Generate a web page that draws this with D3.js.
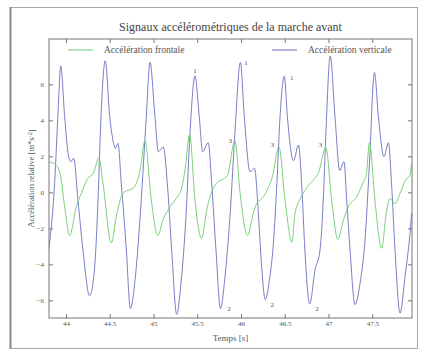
<!DOCTYPE html>
<html>
<head>
<meta charset="utf-8">
<script src="https://cdn.jsdelivr.net/npm/d3@7"></script>
<style>
  body { margin: 0; background: #fff; }
  text { font-family: "Liberation Serif", "Times New Roman", serif; }
</style>
</head>
<body>
<div id="chart"></div>
<script>
// time (s) of the sampled points, vertical acceleration
var vertT = [43.80, 43.87, 43.91, 43.94, 43.985, 44.03, 44.054, 44.088, 44.137, 44.194, 44.27, 44.328, 44.366, 44.40, 44.449,
  44.50, 44.545, 44.564, 44.594, 44.632, 44.69, 44.735, 44.804, 44.86, 44.918, 44.96, 45.017, 45.055, 45.112, 45.158,
  45.208, 45.265, 45.314, 45.371, 45.417, 45.474, 45.523, 45.562, 45.626, 45.665, 45.714, 45.766, 45.817, 45.874, 45.93,
  45.993, 46.038, 46.103, 46.155, 46.195, 46.236, 46.277, 46.33, 46.37, 46.41, 46.446, 46.495, 46.53, 46.60, 46.657,
  46.693, 46.73, 46.785, 46.846, 46.903, 46.94, 46.97, 47.02, 47.074, 47.128, 47.177, 47.208, 47.246, 47.303, 47.36,
  47.417, 47.466, 47.525, 47.57, 47.634, 47.685, 47.72, 47.76, 47.817, 47.874, 47.931, 47.95];
var vertV = [-3.3, 0.5, 4.5, 7.02, 4.2, 1.98, 1.7, 1.89, -0.43, -3.2, -5.74, -4.13, -0.43, 4.2, 7.31,
  4.2, 2.72, 2.44, 2.72, 0.5, -3.2, -6.45, -4.13, -0.43, 4.2, 7.22, 4.2, 2.26, 2.53, 0.5,
  -3.2, -6.78, -5.06, -1.35, 3.28, 6.47, 4.2, 2.26, 2.76, 0.5, -3.2, -6.46, -4.69, -1.35, 3.28,
  7.22, 4.2, 1.15, 1.33, -0.9, -4.13, -5.95, -4.69, -2.84, 0.5, 4.2, 6.46, 4.2, 1.76, 2.63,
  0.5, -3.2, -6.2, -4.32, -3.2, -0.43, 3.28, 7.57, 4.2, 1.22, 1.7, -0.43, -3.2, -6.24, -5.06,
  -2.65, 1.42, 6.66, 4.2, 1.98, 2.76, 0.5, -3.2, -6.71, -4.69, -2.28, -1.17];

// frontal acceleration
var frontT = [43.80, 43.84, 43.89, 43.94, 43.985, 44.042, 44.118, 44.175, 44.25, 44.31, 44.33, 44.375, 44.423, 44.518,
  44.575, 44.632, 44.67, 44.766, 44.804, 44.85, 44.902, 44.975, 45.05, 45.11, 45.19, 45.265, 45.32, 45.36, 45.413,
  45.474, 45.55, 45.608, 45.646, 45.72, 45.80, 45.845, 45.93, 45.99, 46.075, 46.14, 46.18, 46.217, 46.274, 46.36,
  46.434, 46.503, 46.582, 46.617, 46.667, 46.71, 46.789, 46.846, 46.884, 46.969, 47.036, 47.106, 47.17, 47.227,
  47.322, 47.40, 47.432, 47.468, 47.53, 47.606, 47.665, 47.703, 47.76, 47.817, 47.894, 47.923, 47.95];
var frontV = [1.7, 1.65, 1.5, 0.87, -0.8, -2.4, -0.8, -0.06, 0.78, 1.06, 1.3, 1.92, 0.5, -2.8,
  -1.35, -0.24, 0.03, 0.22, 0.5, 1.3, 2.87, -0.43, -2.4, -1.5, -0.8, -0.3, 0.2, 1.24, 3.22,
  -0.43, -2.56, -0.98, -0.24, 0.5, 0.75, 0.95, 2.87, -0.06, -2.4, -1.17, -0.61, -0.45, -0.1, 0.9,
  2.53, -0.43, -2.77, -1.17, -0.45, -0.06, 0.5, 0.78, 1.06, 2.49, -0.43, -2.62, -1.54, -0.8,
  -0.24, 0.6, 1.0, 2.76, -0.43, -3.11, -0.98, -0.35, -0.63, -0.06, 0.78, 0.87, 1.6];

var xTicks = [44, 44.5, 45, 45.5, 46, 46.5, 47, 47.5];
var yTicks = [-6, -4, -2, 0, 2, 4, 6];

// annotation labels (text, time, value)
var annoText = ["1", "1", "1", "2", "2", "2", "3", "3", "3"];
var annoT = [45.474, 46.057, 46.58, 45.863, 46.358, 46.869, 45.878, 46.36, 46.909];
var annoV = [6.76, 7.2, 6.39, -6.47, -6.21, -6.44, 2.88, 2.67, 2.67];

var seriesNames = ["Accélération frontale", "Accélération verticale"];
var seriesColors = ["#6ccb6c", "#6a6ec2"];

var W = 426, H = 353;
var margin = {top: 39, right: 14, bottom: 35, left: 49},
    width = W - margin.left - margin.right,
    height = H - margin.top - margin.bottom;

var svg = d3.select("#chart").append("svg")
    .attr("width", W)
    .attr("height", H);

// figure frame
svg.append("rect")
    .attr("x", 10.5).attr("y", 7.5)
    .attr("width", 407).attr("height", 341)
    .style("fill", "#fff")
    .style("stroke", "#aaa")
    .style("stroke-width", 1);
svg.append("line")
    .attr("x1", 10.5).attr("x2", 10.5).attr("y1", 7).attr("y2", 349)
    .style("stroke", "#888").style("stroke-width", 2);

var g = svg.append("g")
    .attr("transform", "translate(" + margin.left + "," + margin.top + ")");

var x = d3.scaleLinear().domain([43.806, 47.954]).range([0, width]);
var y = d3.scaleLinear().domain([-6.98, 8.52]).range([height, 0]);

var front = frontT.map(function(t, i) { return [t, frontV[i]]; });
var vert = vertT.map(function(t, i) { return [t, vertV[i]]; });

var line = d3.line()
    .x(function(d) { return x(d[0]); })
    .y(function(d) { return y(d[1]); })
    .curve(d3.curveMonotoneX);

g.append("defs").append("clipPath").attr("id", "clip")
  .append("rect").attr("width", width).attr("height", height);

g.append("path")
    .datum(vert)
    .attr("clip-path", "url(#clip)")
    .attr("d", line)
    .style("fill", "none")
    .style("stroke", seriesColors[1])
    .style("stroke-width", 0.9);

g.append("path")
    .datum(front)
    .attr("clip-path", "url(#clip)")
    .attr("d", line)
    .style("fill", "none")
    .style("stroke", seriesColors[0])
    .style("stroke-width", 0.9);

// axes, ticks pointing inwards on all four sides
function styleAxis(sel) {
  sel.select(".domain").remove();
  sel.selectAll("line").style("stroke", "#777");
  sel.selectAll("text")
      .style("font-family", "Liberation Serif, serif")
      .style("font-size", "7px")
      .style("fill", "#555");
}

g.append("g")
    .attr("transform", "translate(0," + height + ")")
    .call(d3.axisBottom(x).tickValues(xTicks).tickSizeInner(-4).tickSizeOuter(0).tickPadding(3)
      .tickFormat(d3.format("")))
    .call(styleAxis);

g.append("g")
    .call(d3.axisTop(x).tickValues(xTicks).tickSizeInner(-4).tickSizeOuter(0).tickFormat(""))
    .call(styleAxis);

g.append("g")
    .call(d3.axisLeft(y).tickValues(yTicks).tickSizeInner(-4).tickSizeOuter(0).tickPadding(5)
      .tickFormat(d3.format("")))
    .call(styleAxis);

g.append("g")
    .attr("transform", "translate(" + width + ",0)")
    .call(d3.axisRight(y).tickValues(yTicks).tickSizeInner(-4).tickSizeOuter(0).tickFormat(""))
    .call(styleAxis);

g.append("rect")
    .attr("width", width).attr("height", height)
    .style("fill", "none")
    .style("stroke", "#777")
    .style("stroke-width", 1);

// annotations
g.selectAll(".anno")
    .data(annoText)
  .enter().append("text")
    .attr("class", "anno")
    .attr("x", function(d, i) { return x(annoT[i]); })
    .attr("y", function(d, i) { return y(annoV[i]); })
    .attr("dy", "0.35em")
    .style("text-anchor", "middle")
    .style("font-size", "7px")
    .style("fill", "#555")
    .text(function(d) { return d; });

// legend
var legendX = [19, 223];
var legend = g.selectAll(".legend")
    .data(seriesNames)
  .enter().append("g")
    .attr("class", "legend")
    .attr("transform", function(d, i) { return "translate(" + legendX[i] + ",11)"; });

legend.append("line")
    .attr("x1", 0).attr("x2", 25)
    .style("stroke", function(d, i) { return seriesColors[i]; })
    .style("stroke-width", 1);

legend.append("text")
    .attr("x", 36)
    .attr("dy", "0.35em")
    .style("font-size", "9.5px")
    .style("fill", "#555")
    .text(function(d) { return d; });

// title and axis labels
svg.append("text")
    .attr("x", margin.left + width / 2)
    .attr("y", 27)
    .attr("dy", "0.35em")
    .style("text-anchor", "middle")
    .style("font-size", "12px")
    .style("fill", "#444")
    .text("Signaux accélérométriques de la marche avant");

svg.append("text")
    .attr("x", margin.left + width / 2)
    .attr("y", 338)
    .attr("dy", "0.35em")
    .style("text-anchor", "middle")
    .style("font-size", "9px")
    .style("fill", "#555")
    .text("Temps [s]");

var ylab = svg.append("text")
    .attr("transform", "translate(31," + (margin.top + height / 2) + ") rotate(-90)")
    .attr("dy", "0.35em")
    .style("text-anchor", "middle")
    .style("font-size", "8.5px")
    .style("fill", "#555");
ylab.append("tspan").text("Accélération relative [m*s");
ylab.append("tspan").attr("dy", "-0.4em").style("font-size", "6px").text("-2");
ylab.append("tspan").attr("dy", "0.4em").text("]");
</script>
</body>
</html>
